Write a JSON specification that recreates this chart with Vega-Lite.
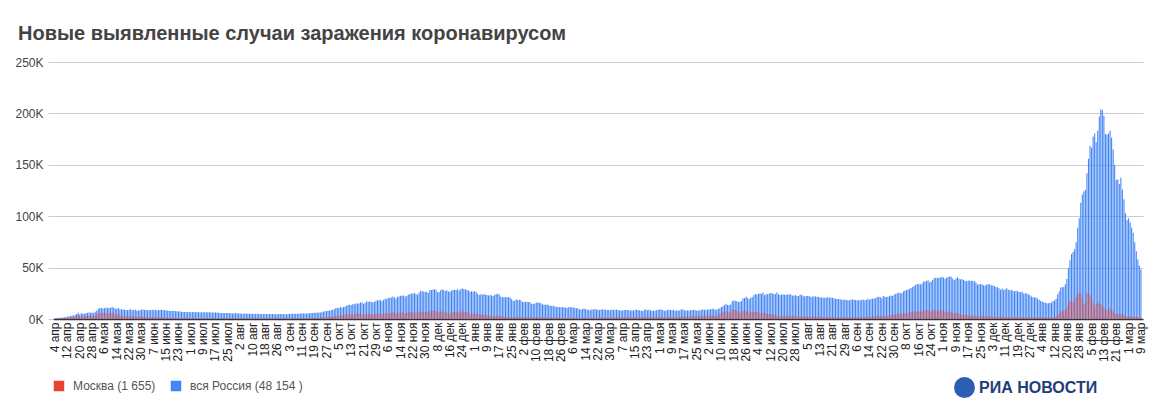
{
  "$schema": "https://vega.github.io/schema/vega-lite/v6.json",
  "width": 1090,
  "height": 257,
  "autosize": "none",
  "padding": {"left": 53, "top": 62, "right": 14, "bottom": 94},
  "background": "white",
  "title": {
    "text": "Новые выявленные случаи заражения коронавирусом",
    "anchor": "start",
    "dx": 3,
    "offset": -4,
    "baseline": "alphabetic",
    "font": "Liberation Sans",
    "fontSize": 20,
    "fontWeight": "bold",
    "color": "#444444"
  },
  "config": {
    "view": {"stroke": null},
    "font": "Liberation Sans",
    "legend": {
      "orient": "bottom", "direction": "horizontal", "title": null,
      "labelFontSize": 12, "labelColor": "#555555",
      "symbolSize": 110, "symbolOpacity": 1, "symbolStrokeWidth": 0,
      "offset": 18, "columnPadding": 14, "labelOffset": 8
    }
  },
  "data": {"values": [
    {"day":0,"rus":582,"msk":434},{"day":1,"rus":658,"msk":387},{"day":2,"rus":954,"msk":591},{"day":3,"rus":1154,"msk":697},{"day":4,"rus":1175,"msk":660},{"day":5,"rus":1459,"msk":857},{"day":6,"rus":1786,"msk":1124},{"day":7,"rus":1667,"msk":1030},{"day":8,"rus":2186,"msk":1355},{"day":9,"rus":2558,"msk":1306},
    {"day":10,"rus":2774,"msk":1489},{"day":11,"rus":3388,"msk":1959},{"day":12,"rus":3448,"msk":1370},{"day":13,"rus":4070,"msk":1667},{"day":14,"rus":4785,"msk":3083},{"day":15,"rus":6060,"msk":3570},{"day":16,"rus":4268,"msk":2649},{"day":17,"rus":5642,"msk":2548},{"day":18,"rus":5236,"msk":2612},{"day":19,"rus":4774,"msk":1959},
    {"day":20,"rus":5849,"msk":2942},{"day":21,"rus":5966,"msk":2871},{"day":22,"rus":6361,"msk":2930},{"day":23,"rus":6198,"msk":2954},{"day":24,"rus":6411,"msk":3083},{"day":25,"rus":5841,"msk":2220},{"day":26,"rus":7099,"msk":3716},
    {"day":27,"rus":7933,"msk":4100},{"day":28,"rus":9623,"msk":5358},{"day":29,"rus":10633,"msk":6079},{"day":30,"rus":10581,"msk":5795},{"day":31,"rus":10102,"msk":5948},{"day":32,"rus":10559,"msk":6703},{"day":33,"rus":11231,"msk":5858},{"day":34,"rus":10699,"msk":5846},{"day":35,"rus":10817,"msk":5829},{"day":36,"rus":11012,"msk":5948},
    {"day":37,"rus":11656,"msk":6169},{"day":38,"rus":10899,"msk":5392},{"day":39,"rus":10028,"msk":4748},{"day":40,"rus":9974,"msk":4703},{"day":41,"rus":10598,"msk":5485},{"day":42,"rus":9200,"msk":3505},{"day":43,"rus":9709,"msk":3238},{"day":44,"rus":8926,"msk":3033},{"day":45,"rus":9263,"msk":3363},{"day":46,"rus":8764,"msk":2913},
    {"day":47,"rus":8849,"msk":3000},{"day":48,"rus":8894,"msk":2930},{"day":49,"rus":9434,"msk":2988},{"day":50,"rus":8599,"msk":2516},{"day":51,"rus":8946,"msk":2570},{"day":52,"rus":8915,"msk":2140},{"day":53,"rus":8338,"msk":2054},{"day":54,"rus":8371,"msk":2054},{"day":55,"rus":8572,"msk":2332},{"day":56,"rus":8952,"msk":2286},{"day":57,"rus":9268,"msk":2595},
    {"day":58,"rus":9035,"msk":2297},{"day":59,"rus":8863,"msk":1855},{"day":60,"rus":8536,"msk":1842},{"day":61,"rus":8831,"msk":1951},{"day":62,"rus":8726,"msk":2286},{"day":63,"rus":8855,"msk":2297},{"day":64,"rus":8984,"msk":2001},{"day":65,"rus":8985,"msk":1572},{"day":66,"rus":8595,"msk":1195},{"day":67,"rus":8404,"msk":1572},
    {"day":68,"rus":8779,"msk":1642},{"day":69,"rus":8987,"msk":1693},{"day":70,"rus":8706,"msk":1504},{"day":71,"rus":8835,"msk":1580},{"day":72,"rus":8246,"msk":1136},{"day":73,"rus":8248,"msk":1139},{"day":74,"rus":7843,"msk":1153},{"day":75,"rus":7790,"msk":1026},{"day":76,"rus":7972,"msk":1076},{"day":77,"rus":7889,"msk":1070},
    {"day":78,"rus":7728,"msk":1009},{"day":79,"rus":7600,"msk":1081},{"day":80,"rus":7425,"msk":902},{"day":81,"rus":7176,"msk":839},{"day":82,"rus":7113,"msk":1057},{"day":83,"rus":6800,"msk":824},{"day":84,"rus":6852,"msk":838},{"day":85,"rus":6791,"msk":814},{"day":86,"rus":6719,"msk":682},{"day":87,"rus":6693,"msk":705},
    {"day":88,"rus":6556,"msk":689},{"day":89,"rus":6760,"msk":633},{"day":90,"rus":6718,"msk":622},{"day":91,"rus":6632,"msk":588},{"day":92,"rus":6736,"msk":628},{"day":93,"rus":6611,"msk":657},{"day":94,"rus":6368,"msk":653},{"day":95,"rus":6562,"msk":633},{"day":96,"rus":6509,"msk":597},{"day":97,"rus":6635,"msk":608},
    {"day":98,"rus":6611,"msk":625},{"day":99,"rus":6615,"msk":648},{"day":100,"rus":6537,"msk":537},{"day":101,"rus":6248,"msk":530},{"day":102,"rus":6422,"msk":597},{"day":103,"rus":6428,"msk":683},{"day":104,"rus":6406,"msk":705},{"day":105,"rus":6234,"msk":623},{"day":106,"rus":6109,"msk":664},{"day":107,"rus":5940,"msk":632},
    {"day":108,"rus":5842,"msk":650},{"day":109,"rus":5862,"msk":673},{"day":110,"rus":5848,"msk":617},{"day":111,"rus":5871,"msk":629},{"day":112,"rus":5811,"msk":609},{"day":113,"rus":5765,"msk":636},{"day":114,"rus":5635,"msk":629},{"day":115,"rus":5395,"msk":649},{"day":116,"rus":5475,"msk":616},{"day":117,"rus":5509,"msk":700},{"day":118,"rus":5482,"msk":695},
    {"day":119,"rus":5462,"msk":684},{"day":120,"rus":5427,"msk":675},{"day":121,"rus":5159,"msk":694},{"day":122,"rus":5204,"msk":637},{"day":123,"rus":5267,"msk":659},{"day":124,"rus":5241,"msk":685},{"day":125,"rus":5212,"msk":683},{"day":126,"rus":5189,"msk":689},{"day":127,"rus":5118,"msk":694},{"day":128,"rus":5102,"msk":675},
    {"day":129,"rus":4945,"msk":688},{"day":130,"rus":5057,"msk":690},{"day":131,"rus":5065,"msk":692},{"day":132,"rus":5061,"msk":673},{"day":133,"rus":4969,"msk":653},{"day":134,"rus":4921,"msk":686},{"day":135,"rus":4839,"msk":680},{"day":136,"rus":4748,"msk":643},{"day":137,"rus":4790,"msk":678},{"day":138,"rus":4767,"msk":683},
    {"day":139,"rus":4870,"msk":683},{"day":140,"rus":4921,"msk":691},{"day":141,"rus":4852,"msk":681},{"day":142,"rus":4696,"msk":696},{"day":143,"rus":4676,"msk":634},{"day":144,"rus":4711,"msk":690},{"day":145,"rus":4766,"msk":686},{"day":146,"rus":4829,"msk":677},{"day":147,"rus":4980,"msk":708},{"day":148,"rus":4897,"msk":703},{"day":149,"rus":4729,"msk":692},
    {"day":150,"rus":4729,"msk":674},{"day":151,"rus":4952,"msk":652},{"day":152,"rus":4995,"msk":645},{"day":153,"rus":5110,"msk":703},{"day":154,"rus":5205,"msk":701},{"day":155,"rus":5195,"msk":706},{"day":156,"rus":5185,"msk":650},{"day":157,"rus":5099,"msk":674},{"day":158,"rus":5172,"msk":705},{"day":159,"rus":5363,"msk":717},
    {"day":160,"rus":5310,"msk":745},{"day":161,"rus":5488,"msk":792},{"day":162,"rus":5406,"msk":762},{"day":163,"rus":5449,"msk":896},{"day":164,"rus":5509,"msk":934},{"day":165,"rus":5670,"msk":1050},{"day":166,"rus":5762,"msk":1050},{"day":167,"rus":5905,"msk":1095},{"day":168,"rus":6065,"msk":1000},{"day":169,"rus":6148,"msk":1000},
    {"day":170,"rus":6196,"msk":1000},{"day":171,"rus":6215,"msk":1050},{"day":172,"rus":6431,"msk":1560},{"day":173,"rus":6595,"msk":1792},{"day":174,"rus":7212,"msk":1560},{"day":175,"rus":7523,"msk":2016},{"day":176,"rus":7867,"msk":2217},{"day":177,"rus":8135,"msk":2016},{"day":178,"rus":8232,"msk":2218},{"day":179,"rus":8481,"msk":2236},
    {"day":180,"rus":8945,"msk":2424},{"day":181,"rus":9412,"msk":2704},{"day":182,"rus":10499,"msk":3537},{"day":183,"rus":10888,"msk":3327},{"day":184,"rus":10499,"msk":2884},{"day":185,"rus":11615,"msk":3229},{"day":186,"rus":11115,"msk":4082},{"day":187,"rus":11493,"msk":3886},{"day":188,"rus":12126,"msk":4501},{"day":189,"rus":12846,"msk":4212},
    {"day":190,"rus":13634,"msk":4859},{"day":191,"rus":13868,"msk":4627},{"day":192,"rus":13592,"msk":4484},{"day":193,"rus":14231,"msk":4429},{"day":194,"rus":14231,"msk":4610},{"day":195,"rus":15150,"msk":5049},{"day":196,"rus":15099,"msk":5376},{"day":197,"rus":15150,"msk":5376},{"day":198,"rus":15982,"msk":4851},{"day":199,"rus":16319,"msk":4410},
    {"day":200,"rus":14922,"msk":4120},{"day":201,"rus":15700,"msk":4288},{"day":202,"rus":17340,"msk":4844},{"day":203,"rus":16521,"msk":5224},{"day":204,"rus":17347,"msk":5224},{"day":205,"rus":16550,"msk":4630},{"day":206,"rus":16202,"msk":4179},{"day":207,"rus":16550,"msk":4620},{"day":208,"rus":17717,"msk":5260},{"day":209,"rus":18283,"msk":5268},{"day":210,"rus":18140,"msk":5261},
    {"day":211,"rus":18665,"msk":5353},{"day":212,"rus":17366,"msk":4501},{"day":213,"rus":18648,"msk":5257},{"day":214,"rus":19768,"msk":5902},{"day":215,"rus":19404,"msk":5478},{"day":216,"rus":20582,"msk":5829},{"day":217,"rus":20498,"msk":5882},{"day":218,"rus":20977,"msk":6253},{"day":219,"rus":21798,"msk":6897},{"day":220,"rus":20977,"msk":5902},
    {"day":221,"rus":19851,"msk":5229},{"day":222,"rus":21608,"msk":5882},{"day":223,"rus":21983,"msk":6253},{"day":224,"rus":22702,"msk":6427},{"day":225,"rus":22572,"msk":6438},{"day":226,"rus":22778,"msk":5882},{"day":227,"rus":21798,"msk":5268},{"day":228,"rus":22410,"msk":5882},{"day":229,"rus":23610,"msk":6902},{"day":230,"rus":24318,"msk":7168},
    {"day":231,"rus":24822,"msk":6902},{"day":232,"rus":24581,"msk":6427},{"day":233,"rus":25173,"msk":6902},{"day":234,"rus":24326,"msk":6000},{"day":235,"rus":23675,"msk":5000},{"day":236,"rus":25487,"msk":6902},{"day":237,"rus":27543,"msk":7168},{"day":238,"rus":27100,"msk":7600},{"day":239,"rus":26683,"msk":6900},{"day":240,"rus":26338,"msk":6900},
    {"day":241,"rus":26402,"msk":6754},{"day":242,"rus":25345,"msk":6000},{"day":243,"rus":28145,"msk":7750},{"day":244,"rus":28209,"msk":7168},{"day":245,"rus":28782,"msk":7993},{"day":246,"rus":29039,"msk":8203},{"day":247,"rus":28142,"msk":7750},{"day":248,"rus":26097,"msk":6409},{"day":249,"rus":26190,"msk":6700},{"day":250,"rus":27927,"msk":7245},
    {"day":251,"rus":28585,"msk":7260},{"day":252,"rus":28137,"msk":7022},{"day":253,"rus":27328,"msk":6425},{"day":254,"rus":28080,"msk":6430},{"day":255,"rus":26689,"msk":5000},{"day":256,"rus":26509,"msk":5500},{"day":257,"rus":27547,"msk":6800},{"day":258,"rus":28214,"msk":6818},{"day":259,"rus":28552,"msk":7797},{"day":260,"rus":28209,"msk":7000},
    {"day":261,"rus":28948,"msk":6800},{"day":262,"rus":27652,"msk":5500},{"day":263,"rus":28927,"msk":6700},{"day":264,"rus":29935,"msk":7920},{"day":265,"rus":29258,"msk":7000},{"day":266,"rus":28922,"msk":7000},{"day":267,"rus":28284,"msk":6800},{"day":268,"rus":27787,"msk":5500},{"day":269,"rus":26513,"msk":5000},{"day":270,"rus":27039,"msk":5500},{"day":271,"rus":26513,"msk":5000},
    {"day":272,"rus":27029,"msk":5000},{"day":273,"rus":26301,"msk":5200},{"day":274,"rus":24246,"msk":4800},{"day":275,"rus":23351,"msk":4400},{"day":276,"rus":24150,"msk":4500},{"day":277,"rus":23541,"msk":4300},{"day":278,"rus":24217,"msk":4000},{"day":279,"rus":23652,"msk":3900},{"day":280,"rus":23309,"msk":3800},{"day":281,"rus":22851,"msk":3500},
    {"day":282,"rus":23315,"msk":3200},{"day":283,"rus":22934,"msk":3100},{"day":284,"rus":22245,"msk":2800},{"day":285,"rus":23510,"msk":2900},{"day":286,"rus":24092,"msk":3000},{"day":287,"rus":24763,"msk":3200},{"day":288,"rus":23586,"msk":2900},{"day":289,"rus":21734,"msk":2500},{"day":290,"rus":21153,"msk":2300},{"day":291,"rus":21152,"msk":2200},
    {"day":292,"rus":21127,"msk":2100},{"day":293,"rus":21513,"msk":2000},{"day":294,"rus":21262,"msk":1900},{"day":295,"rus":20921,"msk":1950},{"day":296,"rus":19290,"msk":1800},{"day":297,"rus":17741,"msk":1700},{"day":298,"rus":17648,"msk":1650},{"day":299,"rus":19138,"msk":1800},{"day":300,"rus":18241,"msk":1900},{"day":301,"rus":18770,"msk":1900},{"day":302,"rus":18359,"msk":1850},
    {"day":303,"rus":16643,"msk":1800},{"day":304,"rus":16714,"msk":1700},{"day":305,"rus":16474,"msk":1650},{"day":306,"rus":16688,"msk":1900},{"day":307,"rus":16627,"msk":1800},{"day":308,"rus":16310,"msk":1700},{"day":309,"rus":14939,"msk":1600},{"day":310,"rus":14494,"msk":1500},{"day":311,"rus":15010,"msk":1600},{"day":312,"rus":15881,"msk":1700},
    {"day":313,"rus":16063,"msk":1750},{"day":314,"rus":15861,"msk":1600},{"day":315,"rus":15327,"msk":1550},{"day":316,"rus":14185,"msk":1500},{"day":317,"rus":14207,"msk":1400},{"day":318,"rus":13953,"msk":1400},{"day":319,"rus":14168,"msk":1450},{"day":320,"rus":13433,"msk":1500},{"day":321,"rus":12953,"msk":1450},{"day":322,"rus":12742,"msk":1400},
    {"day":323,"rus":12796,"msk":1300},{"day":324,"rus":12149,"msk":1250},{"day":325,"rus":11749,"msk":1350},{"day":326,"rus":11823,"msk":1450},{"day":327,"rus":11534,"msk":1400},{"day":328,"rus":11359,"msk":1300},{"day":329,"rus":11534,"msk":1200},{"day":330,"rus":11450,"msk":1150},
    {"day":331,"rus":11024,"msk":1100},{"day":332,"rus":10595,"msk":1050},{"day":333,"rus":11385,"msk":1200},{"day":334,"rus":11571,"msk":1250},{"day":335,"rus":11352,"msk":1250},{"day":336,"rus":11198,"msk":1200},{"day":337,"rus":10813,"msk":1100},{"day":338,"rus":10535,"msk":1050},{"day":339,"rus":10452,"msk":1100},{"day":340,"rus":9445,"msk":1000},
    {"day":341,"rus":9079,"msk":1050},{"day":342,"rus":9803,"msk":1250},{"day":343,"rus":10159,"msk":1300},{"day":344,"rus":9437,"msk":1200},{"day":345,"rus":9030,"msk":1050},{"day":346,"rus":8944,"msk":1000},{"day":347,"rus":8457,"msk":1100},{"day":348,"rus":9427,"msk":1300},{"day":349,"rus":9299,"msk":1350},{"day":350,"rus":9632,"msk":1400},
    {"day":351,"rus":9164,"msk":1350},{"day":352,"rus":9113,"msk":1200},{"day":353,"rus":8810,"msk":1300},{"day":354,"rus":9317,"msk":1550},{"day":355,"rus":9287,"msk":1600},{"day":356,"rus":9167,"msk":1500},{"day":357,"rus":8933,"msk":1450},{"day":358,"rus":8711,"msk":1400},{"day":359,"rus":8763,"msk":1500},{"day":360,"rus":8589,"msk":1450},{"day":361,"rus":9149,"msk":1600},
    {"day":362,"rus":8792,"msk":1600},{"day":363,"rus":9024,"msk":1700},{"day":364,"rus":9088,"msk":1800},{"day":365,"rus":8646,"msk":1700},{"day":366,"rus":8328,"msk":1600},{"day":367,"rus":8294,"msk":1500},{"day":368,"rus":8156,"msk":1500},{"day":369,"rus":8672,"msk":1700},{"day":370,"rus":8702,"msk":1800},{"day":371,"rus":8773,"msk":1800},
    {"day":372,"rus":8810,"msk":1700},{"day":373,"rus":8174,"msk":1600},{"day":374,"rus":8173,"msk":1500},{"day":375,"rus":8341,"msk":1700},{"day":376,"rus":8763,"msk":1900},{"day":377,"rus":8996,"msk":2000},{"day":378,"rus":8803,"msk":1900},{"day":379,"rus":8632,"msk":1800},{"day":380,"rus":8053,"msk":1600},{"day":381,"rus":7813,"msk":1500},
    {"day":382,"rus":9019,"msk":1900},{"day":383,"rus":9270,"msk":2000},{"day":384,"rus":8632,"msk":1900},{"day":385,"rus":8947,"msk":2000},{"day":386,"rus":8465,"msk":1800},{"day":387,"rus":8114,"msk":1600},{"day":388,"rus":8053,"msk":1500},{"day":389,"rus":8271,"msk":1700},{"day":390,"rus":8407,"msk":1800},{"day":391,"rus":9073,"msk":2000},
    {"day":392,"rus":9270,"msk":2100},{"day":393,"rus":9284,"msk":2100},{"day":394,"rus":8731,"msk":1900},{"day":395,"rus":7770,"msk":1700},{"day":396,"rus":8217,"msk":1800},{"day":397,"rus":8419,"msk":1900},{"day":398,"rus":8947,"msk":2100},{"day":399,"rus":8702,"msk":2000},{"day":400,"rus":8554,"msk":2000},{"day":401,"rus":8790,"msk":2100},
    {"day":402,"rus":7974,"msk":1800},{"day":403,"rus":8280,"msk":1900},{"day":404,"rus":8380,"msk":2000},{"day":405,"rus":8217,"msk":2100},{"day":406,"rus":9462,"msk":2500},{"day":407,"rus":9328,"msk":2500},{"day":408,"rus":8554,"msk":2200},{"day":409,"rus":8329,"msk":2100},{"day":410,"rus":8363,"msk":2200},{"day":411,"rus":8217,"msk":2300},
    {"day":412,"rus":8632,"msk":2500},{"day":413,"rus":8442,"msk":2600},{"day":414,"rus":8951,"msk":2800},{"day":415,"rus":8564,"msk":2700},{"day":416,"rus":8373,"msk":2600},{"day":417,"rus":8165,"msk":2500},{"day":418,"rus":8329,"msk":2800},{"day":419,"rus":8947,"msk":3000},{"day":420,"rus":9252,"msk":3100},{"day":421,"rus":9068,"msk":3100},{"day":422,"rus":8951,"msk":3000},
    {"day":423,"rus":9252,"msk":3100},{"day":424,"rus":9328,"msk":3300},{"day":425,"rus":9462,"msk":3500},{"day":426,"rus":9633,"msk":3700},{"day":427,"rus":10000,"msk":3700},{"day":428,"rus":8932,"msk":3000},{"day":429,"rus":9145,"msk":3200},{"day":430,"rus":9977,"msk":4200},{"day":431,"rus":10407,"msk":5000},{"day":432,"rus":11699,"msk":6200},
    {"day":433,"rus":12505,"msk":6700},{"day":434,"rus":13397,"msk":7000},{"day":435,"rus":14723,"msk":7700},{"day":436,"rus":13721,"msk":6500},{"day":437,"rus":13397,"msk":6500},{"day":438,"rus":14057,"msk":6200},{"day":439,"rus":17262,"msk":9050},{"day":440,"rus":17906,"msk":9120},{"day":441,"rus":17611,"msk":9056},{"day":442,"rus":17378,"msk":8500},
    {"day":443,"rus":16715,"msk":7000},{"day":444,"rus":16521,"msk":6500},{"day":445,"rus":17594,"msk":7900},{"day":446,"rus":20182,"msk":7900},{"day":447,"rus":20393,"msk":8000},{"day":448,"rus":21665,"msk":7900},{"day":449,"rus":20538,"msk":7000},{"day":450,"rus":19286,"msk":6300},{"day":451,"rus":20616,"msk":6500},{"day":452,"rus":21042,"msk":7000},
    {"day":453,"rus":23218,"msk":6800},{"day":454,"rus":24217,"msk":6800},{"day":455,"rus":23949,"msk":7200},{"day":456,"rus":24439,"msk":6500},{"day":457,"rus":25142,"msk":5600},{"day":458,"rus":24353,"msk":5600},{"day":459,"rus":25766,"msk":6100},{"day":460,"rus":23218,"msk":6000},{"day":461,"rus":24439,"msk":5500},{"day":462,"rus":24147,"msk":5100},
    {"day":463,"rus":24702,"msk":4800},{"day":464,"rus":25293,"msk":4900},{"day":465,"rus":25116,"msk":4700},{"day":466,"rus":24072,"msk":4300},{"day":467,"rus":24353,"msk":4100},{"day":468,"rus":25704,"msk":3600},{"day":469,"rus":24071,"msk":3500},{"day":470,"rus":23247,"msk":3000},{"day":471,"rus":23770,"msk":2900},{"day":472,"rus":23811,"msk":3100},
    {"day":473,"rus":23704,"msk":2800},{"day":474,"rus":23704,"msk":2900},{"day":475,"rus":23947,"msk":3100},{"day":476,"rus":24072,"msk":3100},{"day":477,"rus":23811,"msk":3000},{"day":478,"rus":22804,"msk":2600},{"day":479,"rus":22732,"msk":2800},{"day":480,"rus":23270,"msk":2900},{"day":481,"rus":22420,"msk":2700},{"day":482,"rus":22277,"msk":2500},{"day":483,"rus":23564,"msk":2700},
    {"day":484,"rus":23564,"msk":2600},{"day":485,"rus":22589,"msk":2500},{"day":486,"rus":21932,"msk":2400},{"day":487,"rus":22336,"msk":2500},{"day":488,"rus":22336,"msk":2400},{"day":489,"rus":22144,"msk":2300},{"day":490,"rus":21650,"msk":2200},{"day":491,"rus":21571,"msk":2300},{"day":492,"rus":22144,"msk":2400},{"day":493,"rus":21932,"msk":2200},
    {"day":494,"rus":21624,"msk":2100},{"day":495,"rus":21378,"msk":2200},{"day":496,"rus":21004,"msk":2100},{"day":497,"rus":20992,"msk":2000},{"day":498,"rus":20765,"msk":1900},{"day":499,"rus":20615,"msk":1800},{"day":500,"rus":20709,"msk":1900},{"day":501,"rus":21058,"msk":2000},{"day":502,"rus":20914,"msk":1900},{"day":503,"rus":20586,"msk":1800},
    {"day":504,"rus":20765,"msk":1800},{"day":505,"rus":20129,"msk":1700},{"day":506,"rus":19630,"msk":1600},{"day":507,"rus":19564,"msk":1700},{"day":508,"rus":19509,"msk":1600},{"day":509,"rus":19286,"msk":1500},{"day":510,"rus":18780,"msk":1400},{"day":511,"rus":18836,"msk":1500},{"day":512,"rus":18985,"msk":1600},{"day":513,"rus":18604,"msk":1500},{"day":514,"rus":18325,"msk":1400},
    {"day":515,"rus":18325,"msk":1400},{"day":516,"rus":18780,"msk":1500},{"day":517,"rus":18985,"msk":1600},{"day":518,"rus":18836,"msk":1700},{"day":519,"rus":18604,"msk":1800},{"day":520,"rus":18325,"msk":1700},{"day":521,"rus":18286,"msk":1600},{"day":522,"rus":18341,"msk":1700},{"day":523,"rus":18554,"msk":1800},{"day":524,"rus":18864,"msk":1900},
    {"day":525,"rus":18178,"msk":2000},{"day":526,"rus":18841,"msk":2100},{"day":527,"rus":19594,"msk":2200},{"day":528,"rus":18780,"msk":2000},{"day":529,"rus":19594,"msk":2100},{"day":530,"rus":19706,"msk":2300},{"day":531,"rus":19905,"msk":2400},{"day":532,"rus":20174,"msk":2600},{"day":533,"rus":21438,"msk":2800},{"day":534,"rus":21559,"msk":2900},
    {"day":535,"rus":21379,"msk":2700},{"day":536,"rus":20174,"msk":2600},{"day":537,"rus":22430,"msk":3000},{"day":538,"rus":21559,"msk":3200},{"day":539,"rus":21438,"msk":3400},{"day":540,"rus":21559,"msk":3300},{"day":541,"rus":22236,"msk":3100},{"day":542,"rus":22830,"msk":3600},{"day":543,"rus":22430,"msk":4000},{"day":544,"rus":23564,"msk":4500},
    {"day":545,"rus":24522,"msk":4800},{"day":546,"rus":25133,"msk":5000},{"day":547,"rus":25781,"msk":5300},{"day":548,"rus":25110,"msk":5400},{"day":549,"rus":25033,"msk":5200},{"day":550,"rus":26821,"msk":5400},{"day":551,"rus":27550,"msk":5600},{"day":552,"rus":28190,"msk":5700},{"day":553,"rus":28717,"msk":6200},{"day":554,"rus":29362,"msk":6400},
    {"day":555,"rus":30143,"msk":6800},{"day":556,"rus":31236,"msk":7200},{"day":557,"rus":32196,"msk":7500},{"day":558,"rus":33208,"msk":7700},{"day":559,"rus":34073,"msk":7400},{"day":560,"rus":33740,"msk":7000},{"day":561,"rus":33740,"msk":7000},{"day":562,"rus":34325,"msk":7600},{"day":563,"rus":36339,"msk":8500},{"day":564,"rus":36582,"msk":8600},
    {"day":565,"rus":37141,"msk":8700},{"day":566,"rus":37678,"msk":8500},{"day":567,"rus":35660,"msk":7500},{"day":568,"rus":36446,"msk":7300},{"day":569,"rus":37930,"msk":8200},{"day":570,"rus":39849,"msk":8500},{"day":571,"rus":40096,"msk":8400},{"day":572,"rus":39849,"msk":8000},{"day":573,"rus":40096,"msk":8500},{"day":574,"rus":40251,"msk":8800},{"day":575,"rus":40993,"msk":8500},
    {"day":576,"rus":40402,"msk":8000},{"day":577,"rus":39160,"msk":7200},{"day":578,"rus":40217,"msk":6900},{"day":579,"rus":40735,"msk":6800},{"day":580,"rus":41335,"msk":7000},{"day":581,"rus":40993,"msk":7100},{"day":582,"rus":39400,"msk":6100},{"day":583,"rus":38058,"msk":5800},{"day":584,"rus":39160,"msk":5900},{"day":585,"rus":40759,"msk":6000},
    {"day":586,"rus":39256,"msk":5600},{"day":587,"rus":38420,"msk":5000},{"day":588,"rus":38823,"msk":4400},{"day":589,"rus":38058,"msk":4300},{"day":590,"rus":37120,"msk":4000},{"day":591,"rus":36626,"msk":3800},{"day":592,"rus":37374,"msk":3700},{"day":593,"rus":37156,"msk":3500},{"day":594,"rus":37120,"msk":3400},{"day":595,"rus":36970,"msk":3300},
    {"day":596,"rus":36626,"msk":3200},{"day":597,"rus":35681,"msk":3000},{"day":598,"rus":33558,"msk":2900},{"day":599,"rus":33860,"msk":3100},{"day":600,"rus":33796,"msk":3000},{"day":601,"rus":33796,"msk":2900},{"day":602,"rus":32930,"msk":2800},{"day":603,"rus":32602,"msk":2700},{"day":604,"rus":33558,"msk":2600},{"day":605,"rus":33860,"msk":2500},
    {"day":606,"rus":33796,"msk":2400},{"day":607,"rus":32930,"msk":2300},{"day":608,"rus":32602,"msk":2300},{"day":609,"rus":32136,"msk":2400},{"day":610,"rus":31096,"msk":2300},{"day":611,"rus":30752,"msk":2200},{"day":612,"rus":29929,"msk":2200},{"day":613,"rus":28363,"msk":2100},{"day":614,"rus":29558,"msk":2100},{"day":615,"rus":28486,"msk":2000},
    {"day":616,"rus":28950,"msk":2000},{"day":617,"rus":29929,"msk":2000},{"day":618,"rus":28486,"msk":2000},{"day":619,"rus":27967,"msk":1900},{"day":620,"rus":28363,"msk":1900},{"day":621,"rus":27528,"msk":1900},{"day":622,"rus":26974,"msk":1900},{"day":623,"rus":27434,"msk":1900},{"day":624,"rus":26974,"msk":1900},{"day":625,"rus":26458,"msk":1900},
    {"day":626,"rus":26063,"msk":1900},{"day":627,"rus":26821,"msk":1900},{"day":628,"rus":24703,"msk":1800},{"day":629,"rus":25096,"msk":1800},{"day":630,"rus":24703,"msk":1800},{"day":631,"rus":23955,"msk":1700},{"day":632,"rus":22985,"msk":1700},{"day":633,"rus":21916,"msk":1700},{"day":634,"rus":21155,"msk":1700},{"day":635,"rus":21073,"msk":1600},{"day":636,"rus":20828,"msk":1600},
    {"day":637,"rus":19751,"msk":1700},{"day":638,"rus":18778,"msk":1800},{"day":639,"rus":17525,"msk":1700},{"day":640,"rus":16805,"msk":1600},{"day":641,"rus":16246,"msk":1600},{"day":642,"rus":15830,"msk":1500},{"day":643,"rus":15223,"msk":1400},{"day":644,"rus":15286,"msk":1400},{"day":645,"rus":15815,"msk":1500},{"day":646,"rus":15812,"msk":1600},
    {"day":647,"rus":17525,"msk":1900},{"day":648,"rus":17889,"msk":2300},{"day":649,"rus":19527,"msk":3000},{"day":650,"rus":23820,"msk":4200},{"day":651,"rus":26828,"msk":5500},{"day":652,"rus":30726,"msk":6800},{"day":653,"rus":30892,"msk":7500},{"day":654,"rus":31252,"msk":8000},{"day":655,"rus":33899,"msk":9100},{"day":656,"rus":38850,"msk":11000},
    {"day":657,"rus":49513,"msk":15000},{"day":658,"rus":57212,"msk":17500},{"day":659,"rus":63205,"msk":18500},{"day":660,"rus":65109,"msk":16500},{"day":661,"rus":67809,"msk":18000},{"day":662,"rus":74692,"msk":21500},{"day":663,"rus":88816,"msk":24000},{"day":664,"rus":98040,"msk":26000},{"day":665,"rus":113122,"msk":25000},{"day":666,"rus":121228,"msk":21000},{"day":667,"rus":124070,"msk":14000},
    {"day":668,"rus":125836,"msk":16000},{"day":669,"rus":141883,"msk":25000},{"day":670,"rus":155768,"msk":26500},{"day":671,"rus":168201,"msk":24000},{"day":672,"rus":166631,"msk":20000},{"day":673,"rus":177282,"msk":16000},{"day":674,"rus":180456,"msk":11000},{"day":675,"rus":171905,"msk":14500},{"day":676,"rus":183103,"msk":17000},{"day":677,"rus":197076,"msk":15500},
    {"day":678,"rus":203949,"msk":14500},{"day":679,"rus":203005,"msk":13000},{"day":680,"rus":197639,"msk":11000},{"day":681,"rus":180071,"msk":8500},{"day":682,"rus":179147,"msk":9000},{"day":683,"rus":180456,"msk":10500},{"day":684,"rus":183103,"msk":10500},{"day":685,"rus":176272,"msk":9000},{"day":686,"rus":165000,"msk":7500},{"day":687,"rus":150003,"msk":5500},
    {"day":688,"rus":135172,"msk":4500},{"day":689,"rus":135833,"msk":5000},{"day":690,"rus":131269,"msk":5200},{"day":691,"rus":137286,"msk":5000},{"day":692,"rus":125897,"msk":4300},{"day":693,"rus":116375,"msk":3700},{"day":694,"rus":102932,"msk":3000},{"day":695,"rus":96185,"msk":2500},
    {"day":696,"rus":98040,"msk":2700},{"day":697,"rus":94068,"msk":2600},{"day":698,"rus":88816,"msk":2400},{"day":699,"rus":84000,"msk":2300},{"day":700,"rus":74692,"msk":2100},{"day":701,"rus":66000,"msk":1900},{"day":702,"rus":58000,"msk":1800},{"day":703,"rus":52000,"msk":1700},{"day":704,"rus":48154,"msk":1655}
  ]},
  "encoding": {
    "x": {
      "field": "day",
      "type": "ordinal",
      "title": null,
      "scale": {"paddingInner": 0.3, "paddingOuter": 1.5},
      "axis": {
        "domainColor": "#333333", "domainWidth": 1.5, "ticks": false,
        "labelAngle": 270, "labelFontSize": 12, "labelColor": "#222222",
        "labelPadding": 3, "labelOverlap": false, "labelBound": false, "labelFlush": false,
        "values": [0,8,16,24,32,40,48,56,64,72,80,88,96,104,112,120,128,136,144,152,160,168,176,184,192,200,208,216,224,232,240,248,256,264,272,280,288,296,304,312,320,328,336,344,352,360,368,376,384,392,400,408,416,424,432,440,448,456,464,472,480,488,496,504,512,520,528,536,544,552,560,568,576,584,592,600,608,616,624,632,640,648,656,664,672,680,688,696,704],
        "labelExpr": "utcFormat(utc(2020, 3, 4 + datum.value), '%-d') + ' ' + ['янв','фев','мар','апр','мая','июн','июл','авг','сен','окт','ноя','дек'][utcmonth(utc(2020, 3, 4 + datum.value))]"
      }
    }
  },
  "layer": [
    {
      "mark": {"type": "bar"},
      "encoding": {
        "y": {
          "field": "rus", "type": "quantitative", "title": null,
          "scale": {"domain": [0, 250000], "nice": false},
          "axis": {
            "grid": true, "gridColor": "#cccccc", "domain": false,
            "ticks": true, "tickSize": 5, "tickColor": "#cccccc",
            "labelPadding": 5, "labelFontSize": 12, "labelColor": "#444444",
            "values": [0, 50000, 100000, 150000, 200000, 250000],
            "labelExpr": "datum.value / 1000 + 'K'"
          }
        },
        "color": {
          "datum": "вся Россия (48 154 )",
          "scale": {"domain": ["Москва (1 655)", "вся Россия (48 154 )"], "range": ["#ea4335", "#4285f4"]},
          "legend": {"symbolType": "square"}
        }
      }
    },
    {
      "mark": {"type": "bar", "opacity": 0.6},
      "encoding": {
        "y": {"field": "msk", "type": "quantitative", "title": null},
        "color": {"datum": "Москва (1 655)"}
      }
    },
    {
      "transform": [{"filter": "datum.day == 704"}],
      "mark": {"type": "point", "filled": true, "opacity": 0, "color": "#2c5fb3"},
      "encoding": {
        "y": {"field": "msk", "type": "quantitative", "title": null},
        "shape": {
          "datum": "РИА НОВОСТИ",
          "scale": {"range": ["circle"]},
          "legend": {
            "orient": "none", "legendX": 901, "legendY": 315, "title": null,
            "symbolSize": 441, "symbolFillColor": "#2c5fb3", "symbolStrokeWidth": 0, "symbolOpacity": 1,
            "labelFont": "Liberation Sans", "labelFontWeight": "bold", "labelFontSize": 16,
            "labelColor": "#1f3d7a", "labelOffset": 4
          }
        }
      }
    }
  ]
}
